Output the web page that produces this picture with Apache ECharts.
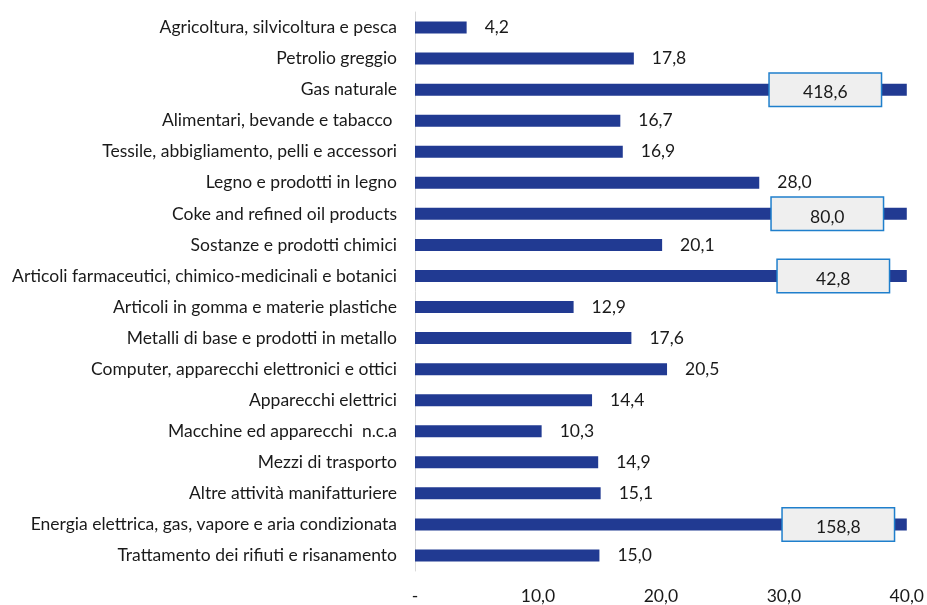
<!DOCTYPE html>
<html>
<head>
<meta charset="utf-8">
<script src="https://cdn.jsdelivr.net/npm/echarts@6/dist/echarts.min.js"></script>
<style>
  html, body { margin: 0; padding: 0; background: #fff; }
  #chart { width: 927px; height: 605px; }
</style>
</head>
<body>
<div id="chart"></div>
<script>
const categories = [
  'Agricoltura, silvicoltura e pesca',
  'Petrolio greggio',
  'Gas naturale',
  'Alimentari, bevande e tabacco ',
  'Tessile, abbigliamento, pelli e accessori',
  'Legno e prodotti in legno',
  'Coke and refined oil products',
  'Sostanze e prodotti chimici',
  'Articoli farmaceutici, chimico-medicinali e botanici',
  'Articoli in gomma e materie plastiche',
  'Metalli di base e prodotti in metallo',
  'Computer, apparecchi elettronici e ottici',
  'Apparecchi elettrici',
  'Macchine ed apparecchi  n.c.a',
  'Mezzi di trasporto',
  'Altre attività manifatturiere',
  'Energia elettrica, gas, vapore e aria condizionata',
  'Trattamento dei rifiuti e risanamento'
];
const values = [4.2, 17.8, 418.6, 16.7, 16.9, 28.0, 80.0, 20.1, 42.8, 12.9, 17.6, 20.5, 14.4, 10.3, 14.9, 15.1, 158.8, 15.0];
const axisTicks = ['-', '10,0', '20,0', '30,0', '40,0'];
const axisMax = 40;

// box offsets for the bars that run past the axis end
const boxOffsets = { 2: -21, 6: -19, 8: -13, 16: -8 };

const fmt = v => v.toFixed(1).replace('.', ',');

const chart = echarts.init(document.getElementById('chart'));

const seriesData = values.map((v, i) => {
  if (v <= axisMax) return { value: v };
  return {
    value: axisMax,
    label: {
      position: 'insideRight',
      distance: 5,
      offset: [boxOffsets[i], 0],
      formatter: (p) => '{box|' + fmt(values[p.dataIndex]) + '}',
      rich: {
        box: {
          width: 111,
          align: 'center',
          fontSize: 17.5,
          color: '#1a1a1a',
          lineHeight: 18,
          padding: [10, 0, 4, 0],
          backgroundColor: '#efefef',
          borderColor: '#1f7fcc',
          borderWidth: 1.5
        }
      }
    }
  };
});

chart.setOption({
  animation: false,
  textStyle: { fontFamily: 'Lato' },
  grid: { left: 415, right: 16, top: 12, bottom: 30, containLabel: false },
  xAxis: {
    type: 'value',
    min: 0,
    max: axisMax,
    interval: 10,
    axisLine: { show: false },
    axisTick: { show: false },
    splitLine: { show: false },
    axisLabel: {
      color: '#1a1a1a',
      fontSize: 17.5,
      margin: 16,
      formatter: (v) => axisTicks[Math.round(v / 10)]
    }
  },
  yAxis: {
    type: 'category',
    inverse: true,
    data: categories,
    axisLine: { show: true, lineStyle: { color: '#d9d9d9', width: 1 } },
    axisTick: { show: false },
    axisLabel: { color: '#1a1a1a', fontSize: 17.5, margin: 18 }
  },
  series: [{
    type: 'bar',
    data: seriesData,
    barWidth: 12,
    itemStyle: { color: '#213a92' },
    label: {
      show: true,
      position: 'right',
      distance: 18,
      color: '#1a1a1a',
      fontSize: 17.5,
      formatter: (p) => fmt(values[p.dataIndex])
    }
  }]
});
</script>
</body>
</html>
